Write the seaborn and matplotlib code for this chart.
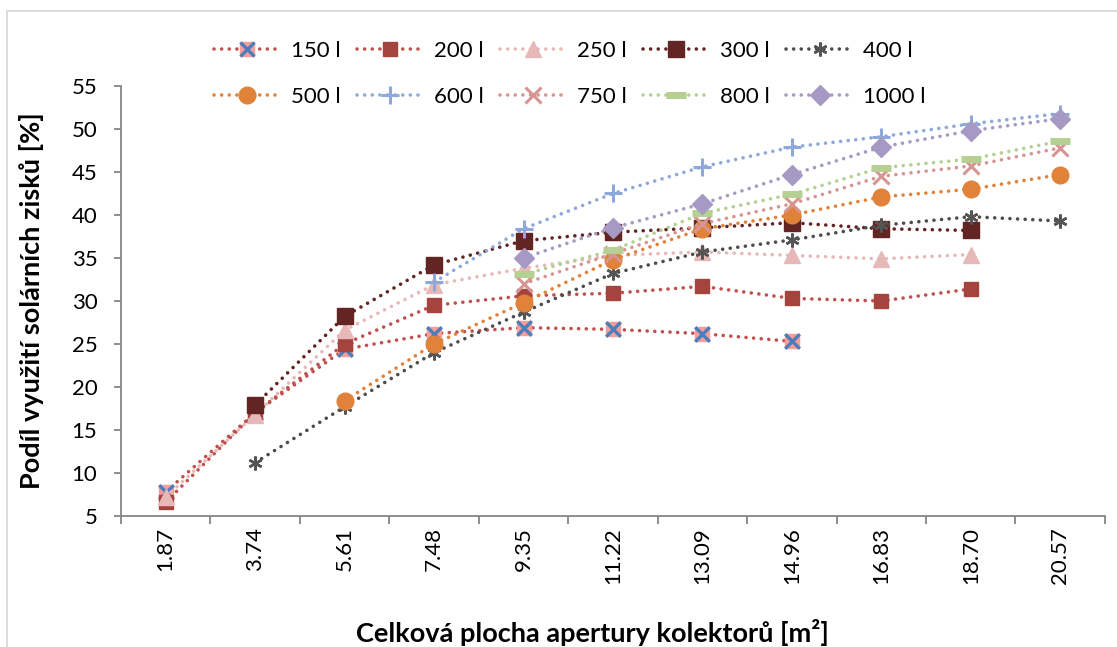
import numpy as np
import pandas as pd
import matplotlib
matplotlib.use("Agg")
import matplotlib.pyplot as plt
import seaborn as sns
from matplotlib.lines import Line2D
from matplotlib.patches import Rectangle

# Collector aperture area categories [m2]
areas = ["1.87", "3.74", "5.61", "7.48", "9.35", "11.22",
         "13.09", "14.96", "16.83", "18.70", "20.57"]
nan = np.nan

# Share of used solar gains [%] per storage tank volume
v150 = [7.8, 17.0, 24.4, 26.2, 26.9, 26.7, 26.2, 25.3, nan, nan, nan]
v200 = [6.6, 17.0, 25.0, 29.5, 30.6, 30.9, 31.7, 30.3, 30.0, 31.4, nan]
v250 = [7.2, 16.8, 26.6, 31.9, 33.8, 35.3, 35.7, 35.3, 34.9, 35.4, nan]
v300 = [nan, 17.9, 28.2, 34.2, 37.0, 38.0, 38.5, 39.1, 38.4, 38.2, nan]
v400 = [nan, 11.2, 17.7, 24.0, 28.7, 33.2, 35.7, 37.1, 38.8, 39.8, 39.3]
v500 = [nan, nan, 18.4, 25.0, 29.8, 34.8, 38.4, 40.0, 42.1, 43.0, 44.7]
v600 = [nan, nan, nan, 32.2, 38.4, 42.5, 45.6, 47.9, 49.1, 50.6, 51.8]
v750 = [nan, nan, nan, nan, 32.0, 35.5, 39.0, 41.3, 44.5, 45.7, 47.8]
v800 = [nan, nan, nan, nan, 33.1, 35.9, 40.2, 42.4, 45.5, 46.5, 48.6]
v1000 = [nan, nan, nan, nan, 35.0, 38.5, 41.3, 44.7, 47.9, 49.8, 51.2]

labels = ["150 l", "200 l", "250 l", "300 l", "400 l",
          "500 l", "600 l", "750 l", "800 l", "1000 l"]
values = [v150, v200, v250, v300, v400, v500, v600, v750, v800, v1000]

rows = []
for lab, vals in zip(labels, values):
    for i, v in enumerate(vals):
        if not np.isnan(v):
            rows.append({"pos": i, "area": areas[i], "value": v, "tank": lab})
df = pd.DataFrame(rows)

LW = 2.6
DOT = (0, (0.01, 2.1))
styles = {
    "150 l": dict(color="#C0504D", marker="s", ms=10.5, mfc="#F89C9C", mec="#F89C9C", mew=1),
    "200 l": dict(color="#C0504D", marker="s", ms=10.5, mfc="#A5433F", mec="#A5433F", mew=1),
    "250 l": dict(color="#E6B9B8", marker="^", ms=11, mfc="#E6B9B8", mec="#E6B9B8", mew=1),
    "300 l": dict(color="#632523", marker="s", ms=11, mfc="#632523", mec="#632523", mew=1),
    "400 l": dict(color="#4D4D4D", marker=(6, 2, 0), ms=10, mfc="#555555", mec="#555555", mew=1.8),
    "500 l": dict(color="#E0823A", marker="o", ms=12, mfc="#E0823A", mec="#E0823A", mew=1),
    "600 l": dict(color="#8EA9D9", marker="+", ms=13, mfc="#8EA9D9", mec="#8EA9D9", mew=2.2),
    "750 l": dict(color="#D69492", marker="x", ms=11, mfc="#D69492", mec="#D69492", mew=2.2),
    "800 l": dict(color="#B6CF92", marker="_", ms=15, mfc="#B6CF92", mec="#B6CF92", mew=5),
    "1000 l": dict(color="#A699C3", marker="D", ms=10, mfc="#A699C3", mec="#A699C3", mew=1),
}
x_blue = "#4A7EBB"

sns.set_theme(style="white")
plt.rcParams["font.family"] = ["Lato", "DejaVu Sans"]

fig = plt.figure(figsize=(11.17, 6.47), dpi=100)
ax = fig.add_axes([0.1083, 0.2025, 0.8809, 0.6646])

handles = {}
for lab in labels:
    st = styles[lab]
    sub = df[df["tank"] == lab]
    sns.lineplot(data=sub, x="pos", y="value", ax=ax, color=st["color"],
                 linestyle=DOT, dash_capstyle="round", linewidth=LW,
                 marker=st["marker"], markersize=st["ms"],
                 markerfacecolor=st["mfc"], markeredgecolor=st["mec"],
                 markeredgewidth=st["mew"], legend=False, zorder=2)
    h = Line2D([], [], color=st["color"], linestyle=DOT, dash_capstyle="round",
               linewidth=LW, marker=st["marker"], markersize=st["ms"],
               markerfacecolor=st["mfc"], markeredgecolor=st["mec"],
               markeredgewidth=st["mew"])
    if lab == "150 l":
        sns.scatterplot(data=sub, x="pos", y="value", ax=ax, marker="x",
                        color=x_blue, s=110, linewidth=2.4, legend=False,
                        zorder=2)
        hx = Line2D([], [], linestyle="none", marker="x", markersize=10,
                    markeredgecolor=x_blue, markeredgewidth=2.4)
        h = (h, hx)
    handles[lab] = h

ax.set_xlim(-0.5, 10.5)
ax.set_ylim(5, 55)
ax.set_xticks(range(len(areas)))
ax.set_xticklabels(areas, rotation=90)
ax.set_xticks(np.arange(-0.5, len(areas), 1.0), minor=True)
ax.set_yticks(range(5, 56, 5))
ax.tick_params(axis="x", which="major", length=0, pad=8, labelsize=16,
               labelcolor="black", bottom=True)
ax.tick_params(axis="x", which="minor", length=6, width=1.3,
               color="#868686", direction="out", bottom=True)
ax.tick_params(axis="y", length=5, width=1.3, color="#868686",
               direction="out", pad=12, labelsize=16, labelcolor="black",
               left=True)
ax.set_xlabel("")
ax.set_ylabel("")
sns.despine(ax=ax)
for s in ("left", "bottom"):
    ax.spines[s].set_color("#868686")
    ax.spines[s].set_linewidth(1.3)

fig.text(0.0285, 0.535, "Podíl využití solárních zisků [%]", rotation=90,
         ha="center", va="center", fontsize=19.5, fontweight="bold", color="black")
fig.text(0.530, 0.022, "Celková plocha apertury kolektorů [m²]",
         ha="center", va="center", fontsize=19.5, fontweight="bold", color="black")

# legend: two rows, filled row by row
order = []
for c in range(5):
    order += [labels[c], labels[c + 5]]
leg = fig.legend([handles[l] for l in order], order, ncol=5, loc="center",
                 bbox_to_anchor=(0.510, 0.886), frameon=False, fontsize=16,
                 handlelength=3.0, handletextpad=0.45, columnspacing=0.75,
                 labelspacing=1.17, numpoints=1, borderpad=0.2)
for t in leg.get_texts():
    t.set_color("black")

# outer chart frame
fig.patches.append(Rectangle((7 / 1117, -0.1), 1.2, 1 - 11 / 647 + 0.1,
                             transform=fig.transFigure, fill=False,
                             edgecolor="#D9D9D9", linewidth=1.3))

fig.savefig("out.png", dpi=100)
